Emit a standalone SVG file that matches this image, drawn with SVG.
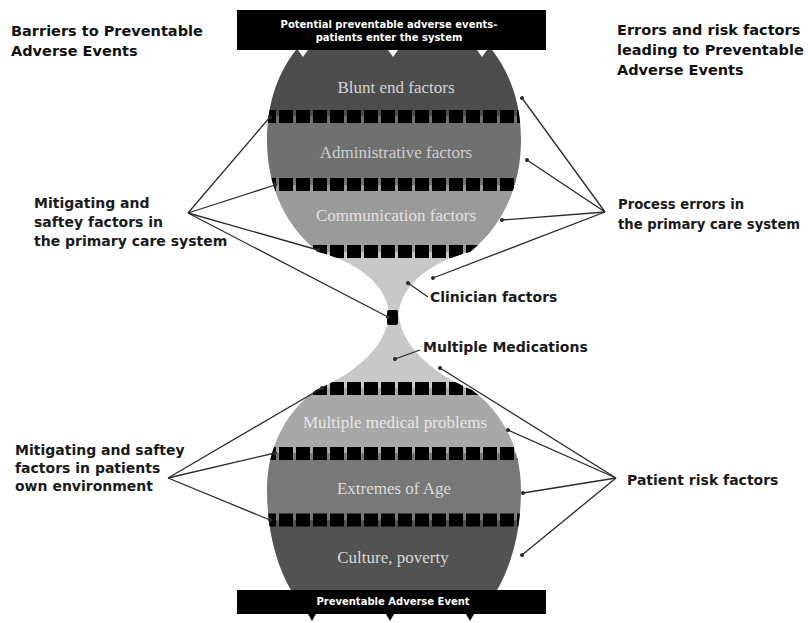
<svg xmlns="http://www.w3.org/2000/svg" width="808" height="623" viewBox="0 0 808 623">
<style>
.lbl{font-family:"DejaVu Sans","Liberation Sans",sans-serif;font-weight:bold;font-size:14px;fill:#1a1a1a}
.lbs{font-size:13.2px}
.ttl{font-family:"DejaVu Sans","Liberation Sans",sans-serif;font-weight:bold;font-size:14.5px;fill:#111}
.ban{font-family:"DejaVu Sans","Liberation Sans",sans-serif;font-weight:bold;font-size:10px;fill:#fff;text-anchor:middle}
.bt{font-family:"Liberation Serif","Times New Roman",serif;font-size:17px;text-anchor:middle}
.bar{stroke:#000;stroke-width:13;stroke-dasharray:14 3;fill:none}
.con{stroke:#2a2a2a;stroke-width:1.3;fill:none;marker-end:url(#dot)}
</style>
<defs>
<marker id="dot" markerUnits="userSpaceOnUse" markerWidth="6" markerHeight="6" refX="3" refY="3" orient="auto"><circle cx="3" cy="3" r="2" fill="#2a2a2a"/></marker>
<clipPath id="topClip"><path d="M296,50 L492,50 C508,70 521,100 521,140 C521,190 500,228 470,252 C430,262 402,285 399,312 L389,312 C386,285 358,262 318,252 C288,228 267,190 267,140 C267,100 280,70 296,50 Z"/></clipPath>
<clipPath id="botClip"><path d="M389,316 L399,316 C402,345 430,372 472,390 C500,410 521,445 521,490 C521,530 512,565 496,592 L292,592 C276,565 267,530 267,490 C267,445 288,410 316,390 C358,372 386,345 389,316 Z"/></clipPath>
</defs>
<rect width="808" height="623" fill="#fff"/>

<g id="top-bulb" clip-path="url(#topClip)">
<rect x="260" y="40" width="270" height="76" fill="#4d4d4d"/>
<rect x="260" y="116" width="270" height="69" fill="#707070"/>
<rect x="260" y="185" width="270" height="67" fill="#9a9a9a"/>
<rect x="260" y="252" width="270" height="70" fill="#c8c8c8"/>
<line class="bar" x1="262" y1="116.5" x2="530" y2="116.5"/>
<line class="bar" x1="262" y1="184.5" x2="530" y2="184.5"/>
<line class="bar" x1="262" y1="251.5" x2="530" y2="251.5"/>
</g>
<g id="bottom-bulb" clip-path="url(#botClip)">
<rect x="260" y="310" width="270" height="78" fill="#c8c8c8"/>
<rect x="260" y="388" width="270" height="65" fill="#a8a8a8"/>
<rect x="260" y="453" width="270" height="67" fill="#787878"/>
<rect x="260" y="520" width="270" height="80" fill="#525252"/>
<line class="bar" x1="262" y1="388.5" x2="530" y2="388.5"/>
<line class="bar" x1="262" y1="453.5" x2="530" y2="453.5"/>
<line class="bar" x1="262" y1="520" x2="530" y2="520"/>
</g>
<rect id="neck" x="387" y="310" width="11" height="15" rx="2" fill="#000"/>

<g id="band-texts">
<text class="bt" x="396" y="93" fill="#d4d4d4">Blunt end factors</text>
<text class="bt" x="396" y="158" fill="#cfcfcf">Administrative factors</text>
<text class="bt" x="396" y="221" fill="#e2e2e2">Communication factors</text>
<text class="bt" x="395" y="428" fill="#e6e6e6">Multiple medical problems</text>
<text class="bt" x="394" y="494" fill="#dcdcdc">Extremes of Age</text>
<text class="bt" x="393" y="563" fill="#d6d6d6">Culture, poverty</text>
</g>

<g id="top-banner">
<rect x="237" y="10" width="309" height="40" fill="#000"/>
<text class="ban" x="389" y="28">Potential preventable adverse events-</text>
<text class="ban" x="389" y="41">patients enter the system</text>
<polygon points="298,50 308,50 303,57" fill="#fff"/>
<polygon points="388,50 398,50 393,57" fill="#fff"/>
<polygon points="477,50 487,50 482,57" fill="#fff"/>
</g>

<g id="bottom-banner">
<rect x="237" y="590" width="309" height="24" fill="#000"/>
<text class="ban" x="393" y="605">Preventable Adverse Event</text>
<polygon points="308,614 316,614 312,621" fill="#000"/>
<polygon points="386,614 394,614 390,621" fill="#000"/>
<polygon points="466,614 474,614 470,621" fill="#000"/>
</g>

<g id="title-left"><text class="ttl" x="11" y="36">Barriers to Preventable</text><text class="ttl" x="11" y="56">Adverse Events</text></g>
<g id="title-right"><text class="ttl" x="617" y="35">Errors and risk factors</text><text class="ttl" x="617" y="55">leading to Preventable</text><text class="ttl" x="617" y="75">Adverse Events</text></g>

<g id="label-mitigating-primary"><text class="lbl" x="34" y="208">Mitigating and</text><text class="lbl" x="34" y="227">saftey factors in</text><text class="lbl" x="34" y="246">the primary care system</text></g>
<g id="label-process-errors"><text class="lbl lbs" x="618" y="209">Process errors in</text><text class="lbl lbs" x="618" y="229">the primary care system</text></g>
<g id="label-clinician"><text class="lbl" x="430" y="302">Clinician factors</text></g>
<g id="label-multiple-medications"><text class="lbl" x="423" y="352">Multiple Medications</text></g>
<g id="label-patient-risk"><text class="lbl" x="627" y="485">Patient risk factors</text></g>
<g id="label-mitigating-patients"><text class="lbl" x="15" y="455">Mitigating and saftey</text><text class="lbl" x="15" y="473">factors in patients</text><text class="lbl" x="15" y="491">own environment</text></g>

<g id="connectors">
<line class="con" x1="188" y1="213" x2="270" y2="117"/>
<line class="con" x1="188" y1="213" x2="275" y2="185"/>
<line class="con" x1="188" y1="213" x2="318" y2="250"/>
<line class="con" x1="188" y1="213" x2="388" y2="317"/>
<line class="con" x1="605" y1="212" x2="522" y2="98"/>
<line class="con" x1="605" y1="212" x2="527" y2="160"/>
<line class="con" x1="605" y1="212" x2="502" y2="220"/>
<line class="con" x1="605" y1="212" x2="433" y2="278"/>
<line class="con" x1="428" y1="297" x2="408" y2="283"/>
<line class="con" x1="420" y1="350" x2="395" y2="359"/>
<line class="con" x1="616" y1="478" x2="440" y2="368"/>
<line class="con" x1="616" y1="478" x2="508" y2="430"/>
<line class="con" x1="616" y1="478" x2="523" y2="493"/>
<line class="con" x1="616" y1="478" x2="522" y2="555"/>
<line class="con" x1="168" y1="478" x2="322" y2="388"/>
<line class="con" x1="168" y1="478" x2="275" y2="453"/>
<line class="con" x1="168" y1="478" x2="270" y2="520"/>
</g>
</svg>
